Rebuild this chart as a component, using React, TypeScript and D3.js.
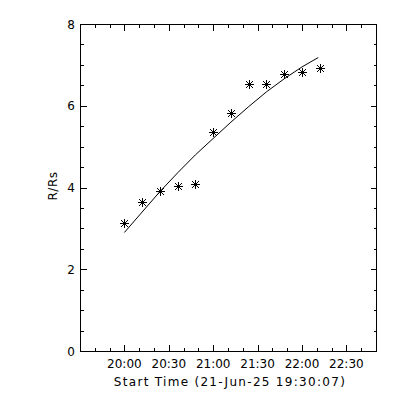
import React, { useEffect, useRef } from 'react';
import { select, scaleLinear, scaleTime, timeParse, line, range } from 'd3';

const times = ['20:00', '20:12', '20:24', '20:36', '20:48', '21:00', '21:12', '21:24', '21:36', '21:48', '22:00', '22:12'];
const heights = [3.13, 3.65, 3.91, 4.04, 4.09, 5.36, 5.82, 6.53, 6.53, 6.78, 6.83, 6.92];

const fitTimes = ['20:00', '20:12', '20:24', '20:36', '20:48', '21:00', '21:12', '21:24', '21:36', '21:48', '22:00', '22:11'];
const fitHeights = [2.9, 3.4, 3.9, 4.36, 4.8, 5.2, 5.6, 5.98, 6.34, 6.66, 6.95, 7.18];

const xTickLabels = ['20:00', '20:30', '21:00', '21:30', '22:00', '22:30'];
const yTicks = [0, 2, 4, 6, 8];

const App = () => {
  const svgRef = useRef();

  useEffect(() => {
    const svg = select(svgRef.current);
    svg.selectAll('*').remove();

    const left = 80, right = 376, top = 24, bottom = 351;
    const parse = timeParse('%H:%M');
    const parseS = timeParse('%H:%M:%S');

    const x = scaleTime()
      .domain([parseS('19:30:00'), parseS('22:50:00')])
      .range([left, right]);
    const y = scaleLinear().domain([0, 8]).range([bottom, top]);

    const g = svg.append('g').attr('stroke', '#000').attr('fill', 'none').attr('shape-rendering', 'crispEdges');
    g.append('rect')
      .attr('x', left + 0.5)
      .attr('y', top + 0.5)
      .attr('width', right - left)
      .attr('height', bottom - top);

    // x ticks every 10 min, major every 30
    const xMinor = range(0, 201, 10).map((m) => new Date(x.domain()[0].getTime() + m * 60000));
    xMinor.forEach((d, i) => {
      const px = Math.round(x(d)) + 0.5;
      const len = i % 3 === 0 ? 6.5 : 3.3;
      g.append('line').attr('x1', px).attr('x2', px).attr('y1', bottom + 0.5).attr('y2', bottom + 0.5 - len);
      g.append('line').attr('x1', px).attr('x2', px).attr('y1', top + 0.5).attr('y2', top + 0.5 + len);
    });

    // y ticks every 0.5, major every 2
    range(0, 8.01, 0.5).forEach((v) => {
      const py = Math.round(y(v)) + 0.5;
      const len = v % 2 === 0 ? 6 : 3;
      g.append('line').attr('x1', left + 0.5).attr('x2', left + 0.5 + len).attr('y1', py).attr('y2', py);
      g.append('line').attr('x1', right + 0.5).attr('x2', right + 0.5 - len).attr('y1', py).attr('y2', py);
    });

    const font = 'DejaVu Sans, sans-serif';
    const txt = svg.append('g').attr('font-family', font).attr('font-size', 12).attr('fill', '#000');

    xTickLabels.forEach((t) => {
      txt.append('text')
        .attr('x', x(parse(t)))
        .attr('y', 368)
        .attr('text-anchor', 'middle')
        .text(t);
    });
    yTicks.forEach((v) => {
      txt.append('text')
        .attr('x', 75)
        .attr('y', y(v) + 4.5)
        .attr('text-anchor', 'end')
        .text(v);
    });
    txt.append('text')
      .attr('x', 230)
      .attr('y', 386)
      .attr('text-anchor', 'middle')
      .attr('letter-spacing', 1.3)
      .text('Start Time (21-Jun-25 19:30:07)');
    txt.append('text')
      .attr('transform', `translate(57,186) rotate(-90)`)
      .attr('text-anchor', 'middle')
      .attr('letter-spacing', 0.5)
      .text('R/Rs');

    const fit = fitTimes.map((t, i) => [x(parse(t)), y(fitHeights[i])]);
    svg.append('path')
      .attr('d', line()(fit))
      .attr('fill', 'none')
      .attr('stroke', '#000')
      .attr('stroke-width', 1);

    const r = 4.5;
    const d2 = 3.5;
    const stars = svg.append('g').attr('stroke', '#000').attr('stroke-width', 1);
    times.forEach((t, i) => {
      const cx = Math.round(x(parse(t))) + 0.5;
      const cy = Math.round(y(heights[i])) + 0.5;
      stars.append('path')
        .attr('d', `M${cx - r},${cy}H${cx + r}M${cx},${cy - r}V${cy + r}M${cx - d2},${cy - d2}L${cx + d2},${cy + d2}M${cx - d2},${cy + d2}L${cx + d2},${cy - d2}`);
    });
  }, []);

  return <svg ref={svgRef} width={400} height={400} style={{ position: 'absolute', left: 0, top: 0, background: '#fff' }} />;
};

export default App;
